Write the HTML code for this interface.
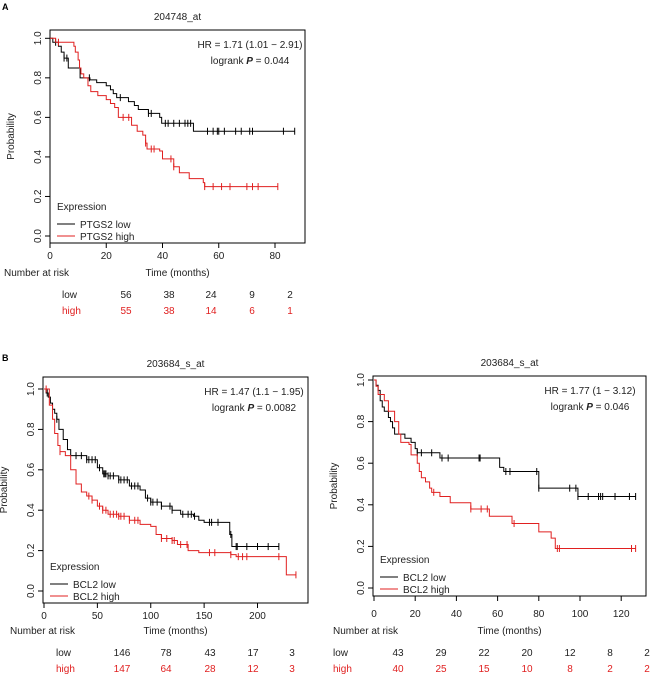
<!DOCTYPE html>
<html><head><meta charset="utf-8">
<style>
html,body{margin:0;padding:0;background:#fff;}
svg{display:block;font-family:"Liberation Sans",Arial,sans-serif;}
</style></head>
<body>
<svg id="fig" width="650" height="678" viewBox="0 0 650 678" xmlns="http://www.w3.org/2000/svg"></svg>
<script>
// ---------- Panel A data ----------
const aLowT = [0,1,3,4,5,6.5,10.7,14.2,16.6,20,21.5,22.5,23.7,27.9,30,31.4,35,39,39.7,51,87];
const aLowS = [1,0.98,0.96,0.93,0.9,0.85,0.8,0.79,0.776,0.76,0.74,0.72,0.70,0.68,0.66,0.64,0.62,0.6,0.57,0.53,0.53];
const aLowC = [2,5,6,14,25,35,36,41,42,44,46,48,49,50,56,58,59.5,60,62,66,68,71,72,83,87];
const aHighT = [0,2,8.5,9,10,10.5,11,12,13.5,14.5,17,20,21.5,23,24.3,29,31,33,34,34.5,39,40,44,46,49.5,54.5,55,81];
const aHighS = [1,0.98,0.96,0.93,0.89,0.85,0.82,0.80,0.76,0.73,0.71,0.69,0.67,0.65,0.60,0.56,0.53,0.51,0.47,0.44,0.43,0.39,0.35,0.32,0.29,0.27,0.25,0.25];
const aHighC = [3,26,28,34,36,37,43,44,55,58,61,64,70,72,74,81];
const aRiskLow = ["56","38","24","9","2"];
const aRiskHigh = ["55","38","14","6","1"];
const aXTicks = [0,20,40,60,80];
// ---------- Panel B left data ----------
const bLowT = [0,2,4,6,8,10,12,14,18,22,25,40,50,55,60,70,80,90,95,100,110,120,128,140,145,150,174,176,220];
const bLowS = [1,0.98,0.96,0.93,0.9,0.88,0.85,0.80,0.75,0.70,0.67,0.65,0.61,0.58,0.57,0.55,0.52,0.50,0.46,0.44,0.42,0.40,0.38,0.37,0.35,0.34,0.28,0.22,0.22];
const bLowC = [3,12,30,35,40,42,45,48,52,56,57,58,60,62,65,70,72,75,78,82,85,88,97,100,102,106,110,118,120,130,135,138,141,155,157,163,175,180,181,190,200,210,220];
const bHighT = [0,5,8,10,13,15,20,25,30,35,40,45,50,55,60,70,80,90,100,105,110,120,125,135,145,175,180,227,236];
const bHighS = [1,0.92,0.85,0.78,0.72,0.69,0.67,0.60,0.53,0.49,0.47,0.45,0.42,0.40,0.38,0.37,0.35,0.33,0.32,0.28,0.26,0.25,0.23,0.20,0.19,0.18,0.17,0.08,0.08];
const bHighC = [2,15,42,45,52,55,58,62,65,68,70,72,75,80,85,88,110,115,120,122,128,134,155,160,175,182,186,190,220,236];
const bRiskLow = ["146","78","43","17","3"];
const bRiskHigh = ["147","64","28","12","3"];
const bXTicks = [0,50,100,150,200];
// ---------- Panel C (B right) data ----------
const cLowT = [0,1,2,3,4,5,7,8,9,10,15,18,20,21,32,61,63,80,99,127];
const cLowS = [1,0.975,0.95,0.9,0.87,0.85,0.82,0.8,0.77,0.74,0.72,0.7,0.67,0.65,0.625,0.58,0.56,0.48,0.44,0.44];
const cLowC = [21,23,28,33,36,51,51.5,64,66,79,80,95,98,99,104,109,110,111,117,124,127];
const cHighT = [0,1,2,5,7,10,12,13,17,18,21,22,23,25,27,28,32,37,47,56,67,80,86,88,127];
const cHighS = [1,0.97,0.93,0.90,0.85,0.80,0.74,0.70,0.69,0.64,0.60,0.56,0.53,0.51,0.48,0.46,0.44,0.41,0.38,0.345,0.31,0.27,0.24,0.19,0.19];
const cHighC = [29,47,52,55,68,89,90,125,127];
const cRiskLow = ["43","29","22","20","12","8","2"];
const cRiskHigh = ["40","25","15","10","8","2","2"];
const cXTicks = [0,20,40,60,80,100,120];
const yTicks = [0,0.2,0.4,0.6,0.8,1.0];

const NS = "http://www.w3.org/2000/svg";
const RED = '#e02020';
const svg = document.getElementById('fig');
function mk(tag, attrs, parent){
  const e = document.createElementNS(NS, tag);
  for (const k in attrs) e.setAttribute(k, attrs[k]);
  (parent||svg).appendChild(e);
  return e;
}
function txt(x,y,s,opts,parent){
  const t = mk('text',{x:x,y:y,'font-size':opts.size||10,'text-anchor':opts.anchor||'middle',fill:opts.fill||'#222'},parent);
  if (opts.rot) t.setAttribute('transform','rotate(-90 '+x+' '+y+')');
  if (opts.weight) t.setAttribute('font-weight',opts.weight);
  t.textContent = s;
  return t;
}

function panel(cfg){
  const g = mk('g',{});
  
  
  const X = t => cfg.x0 + t*cfg.xs;
  const Y = p => cfg.y0 - p*cfg.ys;
  const box = mk('rect',{x:cfg.l,y:cfg.t,width:cfg.r-cfg.l,height:cfg.b-cfg.t,fill:'none',stroke:'#000','stroke-width':1},g);
  
  
  const tt = txt((cfg.l+cfg.r)/2, cfg.t-10, cfg.title, {size:10}, g);
  
  
  const xa = mk('g',{},g);
  
  
  cfg.xticks.forEach(v=>{
    mk('line',{x1:X(v),x2:X(v),y1:cfg.b,y2:cfg.b+5,stroke:'#000'},xa);
    const l = txt(X(v), cfg.b+cfg.tl, String(v), {size:10}, xa);
    
    
  });
  mk('line',{x1:X(cfg.xticks[0]),x2:X(cfg.xticks[cfg.xticks.length-1]),y1:cfg.b,y2:cfg.b,stroke:'#000'},xa);
  const ya = mk('g',{},g);
  
  
  yTicks.forEach(v=>{
    mk('line',{x1:cfg.l-5,x2:cfg.l,y1:Y(v),y2:Y(v),stroke:'#000'},ya);
    const l = txt(cfg.l-9, Y(v), v.toFixed(1), {size:10,rot:true}, ya);
    
    
  });
  const yt = txt(cfg.l-36, (cfg.t+cfg.b)/2, 'Probability', {size:10,rot:true}, g);
  
  
  function curve(T,S,C,color,nm){
    let d = 'M'+X(T[0])+','+Y(S[0]);
    for (let i=1;i<T.length;i++){ d += ' H'+X(T[i])+' V'+Y(S[i]); }
    const p = mk('path',{d:d,fill:'none',stroke:color,'stroke-width':1},g);
    
    
    C.forEach(c=>{
      let s = S[0];
      for (let i=0;i<T.length;i++){ if (T[i]<=c) s=S[i]; }
      const m = mk('line',{x1:X(c),x2:X(c),y1:Y(s)-3.5,y2:Y(s)+3.5,stroke:color,'stroke-width':1},g);
      
      
    });
  }
  curve(cfg.lowT,cfg.lowS,cfg.lowC,'#000','low');
  curve(cfg.highT,cfg.highS,cfg.highC,RED,'high');
  const h1 = txt(cfg.sx, cfg.t+18, cfg.hr, {size:10}, g);
  
  
  const h2 = mk('text',{x:cfg.sx,y:cfg.t+34,'font-size':10,'text-anchor':'middle',fill:'#222'},g);
  
  
  h2.innerHTML = 'logrank <tspan font-weight="bold" font-style="italic">P</tspan> = '+cfg.p;
  const lg = mk('g',{},g);
  
  
  txt(cfg.l+7, cfg.b-33, 'Expression', {size:10,anchor:'start'}, lg);
  mk('line',{x1:cfg.l+7,x2:cfg.l+25,y1:cfg.b-19,y2:cfg.b-19,stroke:'#000'},lg);
  mk('line',{x1:cfg.l+7,x2:cfg.l+25,y1:cfg.b-7,y2:cfg.b-7,stroke:RED},lg);
  txt(cfg.l+30, cfg.b-15, cfg.gene+' low', {size:10,anchor:'start'}, lg);
  txt(cfg.l+30, cfg.b-3, cfg.gene+' high', {size:10,anchor:'start'}, lg);
  const rt = mk('g',{},g);
  
  
  txt(cfg.nx, cfg.b+cfg.r0, 'Number at risk', {size:10,anchor:'start'}, rt);
  const xt = txt((cfg.l+cfg.r)/2, cfg.b+cfg.r0, 'Time (months)', {size:10}, g);
  
  
  txt(cfg.rlx, cfg.b+cfg.r0+22, 'low', {size:10,anchor:'start'}, rt);
  txt(cfg.rlx, cfg.b+cfg.r0+38, 'high', {size:10,anchor:'start',fill:RED}, rt);
  cfg.riskLow.forEach((v,i)=>txt(cfg.rcx[i], cfg.b+cfg.r0+22, v, {size:10}, rt));
  cfg.riskHigh.forEach((v,i)=>txt(cfg.rcx[i], cfg.b+cfg.r0+38, v, {size:10,fill:RED}, rt));
}

const la = txt(2,10,'A',{size:9,anchor:'start',weight:'bold',fill:'#000'});


const lb = txt(2,361,'B',{size:9,anchor:'start',weight:'bold',fill:'#000'});



panel({name:'panel-a-ptgs2', title:'204748_at', gene:'PTGS2', l:50,t:30,r:305,b:243,
  x0:50, xs:2.8125, y0:236, ys:197.7, xticks:aXTicks, tl:16, r0:33,
  lowT:aLowT,lowS:aLowS,lowC:aLowC,highT:aHighT,highS:aHighS,highC:aHighC,
  hr:'HR = 1.71 (1.01 − 2.91)', p:'0.044', sx:250,
  nx:4, rlx:62, rcx:[126,169,211,252,290], riskLow:aRiskLow, riskHigh:aRiskHigh});

panel({name:'panel-b-left-bcl2', title:'203684_s_at', gene:'BCL2', l:43,t:377,r:308,b:603,
  x0:44, xs:1.0675, y0:591, ys:202, xticks:bXTicks, tl:16, r0:31,
  lowT:bLowT,lowS:bLowS,lowC:bLowC,highT:bHighT,highS:bHighS,highC:bHighC,
  hr:'HR = 1.47 (1.1 − 1.95)', p:'0.0082', sx:254,
  nx:10, rlx:56, rcx:[122,166,210,253,292], riskLow:bRiskLow, riskHigh:bRiskHigh});

panel({name:'panel-b-right-bcl2', title:'203684_s_at', gene:'BCL2', l:373,t:376,r:646,b:596,
  x0:374, xs:2.06, y0:588, ys:208, xticks:cXTicks, tl:21, r0:38,
  lowT:cLowT,lowS:cLowS,lowC:cLowC,highT:cHighT,highS:cHighS,highC:cHighC,
  hr:'HR = 1.77 (1 − 3.12)', p:'0.046', sx:590,
  nx:333, rlx:333, rcx:[398,441,484,527,570,610,647], riskLow:cRiskLow, riskHigh:cRiskHigh});
</script>
</body></html>
